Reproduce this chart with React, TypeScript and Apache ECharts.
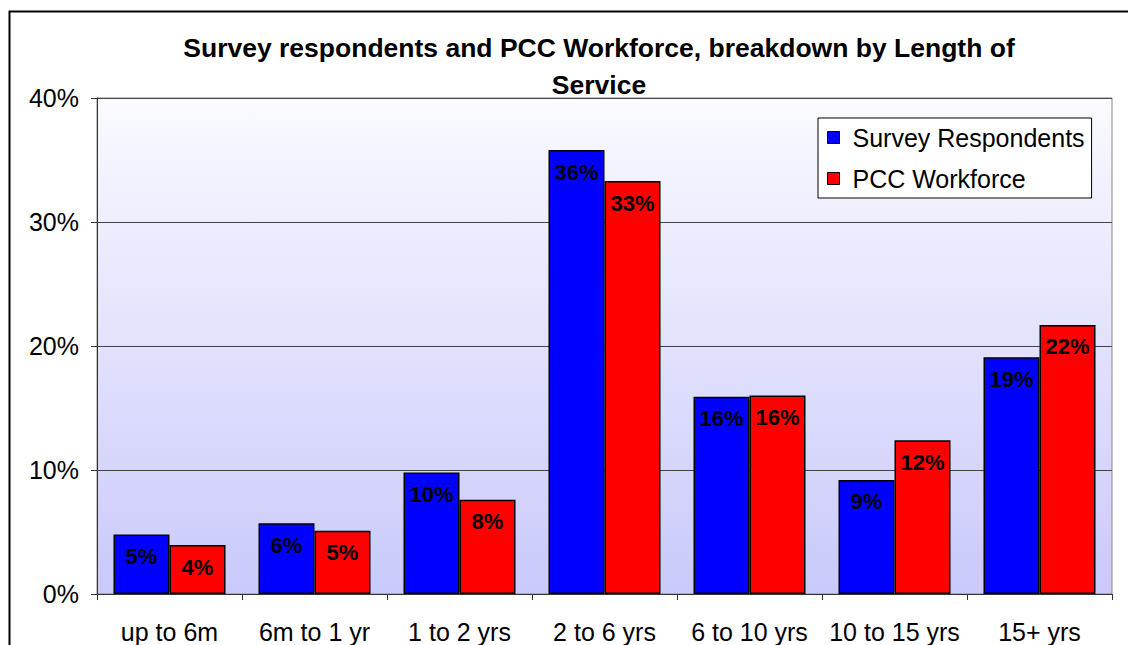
import React, { useEffect, useRef } from "react";
import * as echarts from "echarts";

const categories = ["up to 6m", "6m to 1 yr", "1 to 2 yrs", "2 to 6 yrs", "6 to 10 yrs", "10 to 15 yrs", "15+ yrs"];
const surveyRespondents = [4.8, 5.7, 9.8, 35.8, 15.9, 9.2, 19.1];
const pccWorkforce = [3.95, 5.1, 7.6, 33.3, 16.0, 12.4, 21.7];
const seriesNames = ["Survey Respondents", "PCC Workforce"];
const titleText = "Survey respondents and PCC Workforce, breakdown by Length of\nService";

const FONT = "Arial, 'Liberation Sans', sans-serif";

export default function App() {
  const ref = useRef<HTMLDivElement>(null);
  useEffect(() => {
    if (!ref.current) return;
    const chart = echarts.init(ref.current, null, { renderer: "svg" });
    const label = {
      show: true,
      position: "insideTop",
      distance: 11,
      fontFamily: FONT,
      fontSize: 22,
      fontWeight: "bold",
      color: "#000",
      formatter: (p: any) => Math.round(p.value) + "%",
    };
    chart.setOption({
      animation: false,
      backgroundColor: "#fff",
      title: {
        text: titleText,
        left: 594,
        textAlign: "center",
        top: 24,
        textStyle: { fontFamily: FONT, fontSize: 26.5, fontWeight: "bold", color: "#000", lineHeight: 37 },
      },
      legend: {
        orient: "vertical",
        left: 818,
        top: 118,
        padding: [7, 7, 7, 9],
        itemGap: 16,
        itemWidth: 12,
        itemHeight: 12,
        backgroundColor: "#fff",
        borderColor: "#000",
        borderWidth: 1,
        borderRadius: 0,
        icon: "rect",
        itemStyle: { borderColor: "#000", borderWidth: 1 },
        textStyle: { fontFamily: FONT, fontSize: 25, color: "#000", padding: [0, 0, 0, 8] },
        data: seriesNames,
      },
      grid: {
        left: 97,
        right: 16,
        top: 98,
        bottom: 51,
        show: true,
        borderColor: "#888",
        borderWidth: 1,
        backgroundColor: new echarts.graphic.LinearGradient(0, 0, 0, 1, [
          { offset: 0, color: "#fafaff" },
          { offset: 1, color: "#c9c9fb" },
        ]),
      },
      xAxis: {
        type: "category",
        data: categories,
        axisLine: { lineStyle: { color: "#333", width: 1 } },
        axisTick: { show: true, length: 6, lineStyle: { color: "#333" } },
        axisLabel: { fontFamily: FONT, fontSize: 25, color: "#000", margin: 25, interval: 0 },
      },
      yAxis: {
        type: "value",
        min: 0,
        max: 40,
        interval: 10,
        axisLine: { show: true, lineStyle: { color: "#333", width: 1 } },
        axisTick: { show: true, length: 6, lineStyle: { color: "#333" } },
        axisLabel: { fontFamily: FONT, fontSize: 25, color: "#000", margin: 18, formatter: "{value}%" },
        splitLine: { show: true, lineStyle: { color: "#444", width: 1 } },
      },
      series: [
        {
          name: seriesNames[0],
          type: "bar",
          data: surveyRespondents,
          barWidth: 56,
          barGap: "0%",
          itemStyle: { color: "#0000ff", borderColor: "#000", borderWidth: 1.5 },
          label,
        },
        {
          name: seriesNames[1],
          type: "bar",
          data: pccWorkforce,
          barWidth: 56,
          barGap: "0%",
          itemStyle: { color: "#ff0000", borderColor: "#000", borderWidth: 1.5 },
          label,
        },
      ],
      graphic: [
        {
          type: "rect",
          left: 7,
          top: 9,
          shape: { x: 0, y: 0, width: 1140, height: 660 },
          style: { fill: "none", stroke: "#000", lineWidth: 2 },
          silent: true,
          z: 100,
        },
      ],
    });
    return () => chart.dispose();
  }, []);
  return <div ref={ref} style={{ position: "fixed", left: 0, top: 0, width: 1128, height: 645 }} />;
}
